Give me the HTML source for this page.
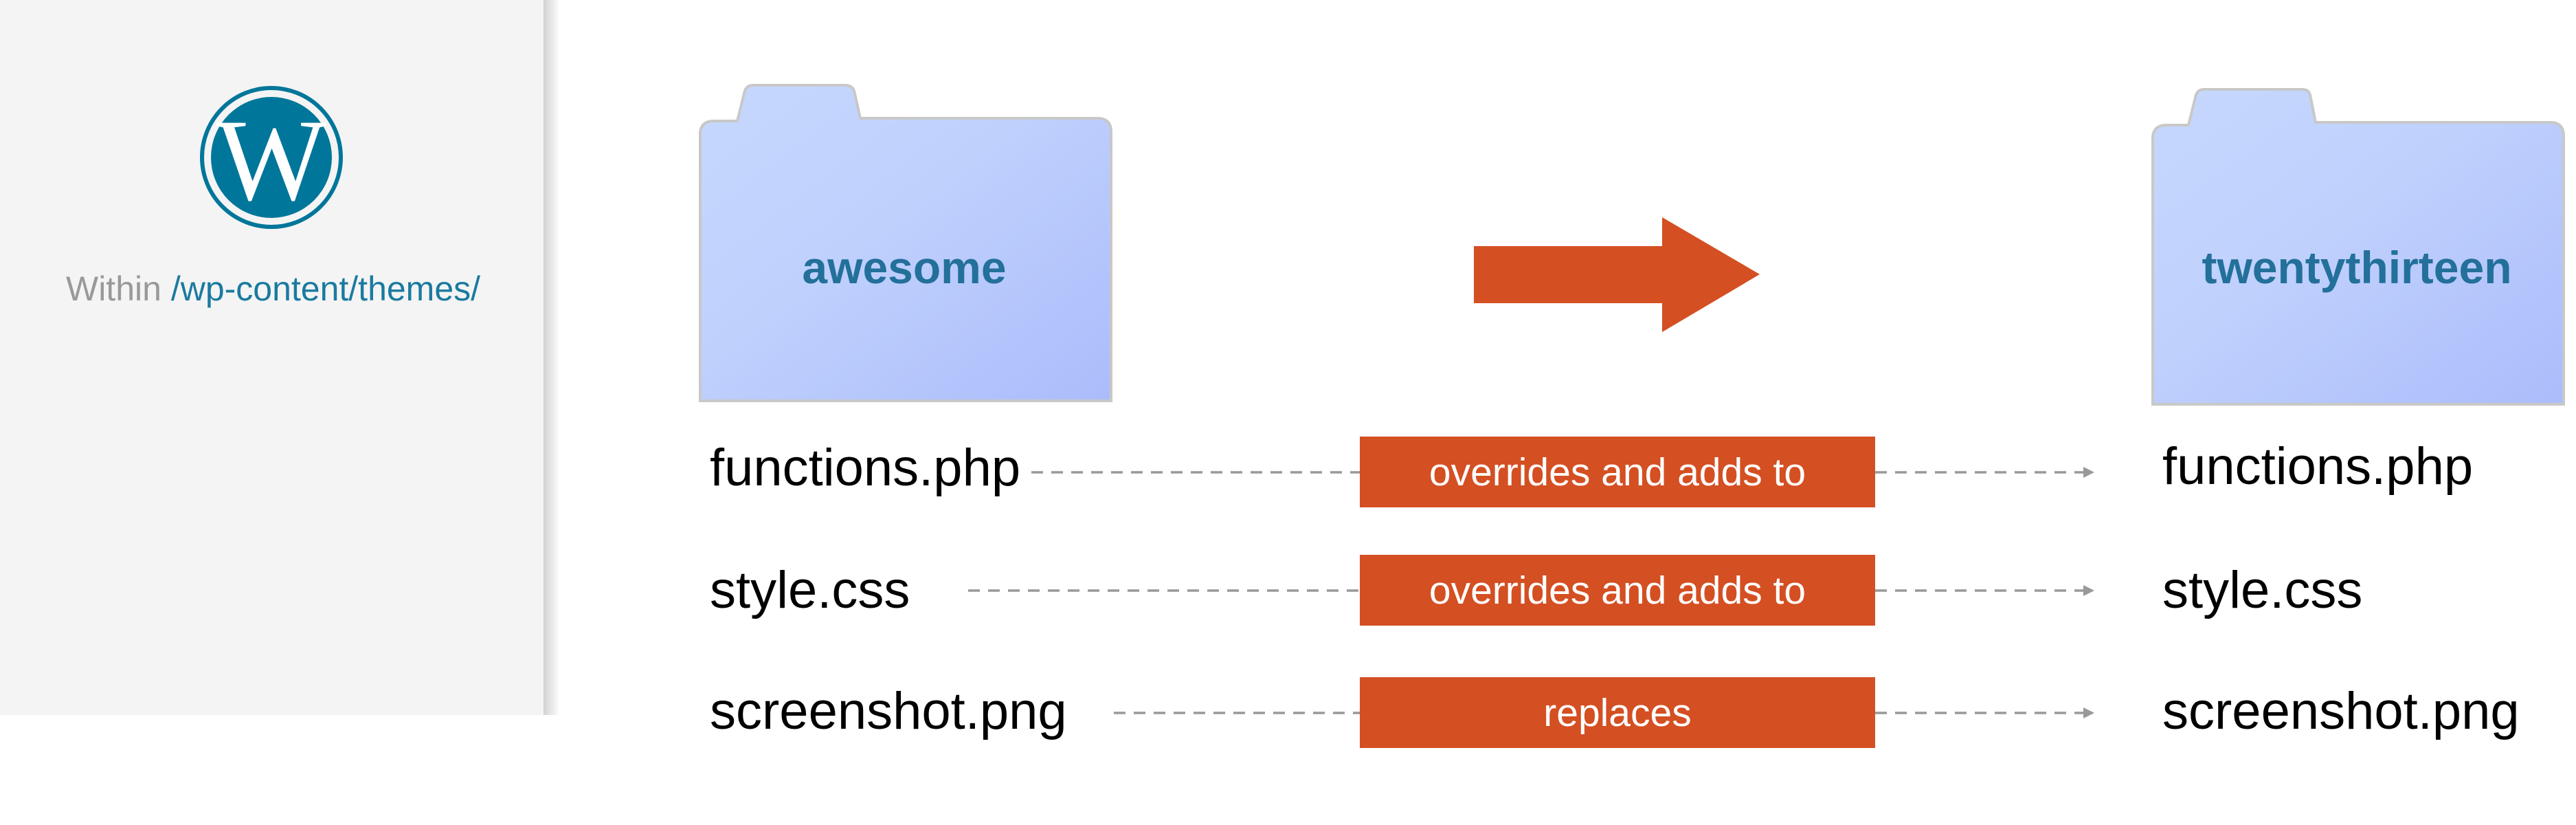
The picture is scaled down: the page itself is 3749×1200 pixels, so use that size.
<!DOCTYPE html>
<html><head><meta charset="utf-8"><style>
html,body{margin:0;padding:0;background:#fff;}
svg{display:block;}
text{font-family:"Liberation Sans",Arial,sans-serif;}
</style></head><body>
<svg width="3749" height="1200" viewBox="0 0 3749 1200" xmlns="http://www.w3.org/2000/svg">
<defs>
<linearGradient id="fg" x1="0" y1="0" x2="1" y2="1">
<stop offset="0" stop-color="#c6d8fd"/><stop offset="0.45" stop-color="#bfd0fd"/><stop offset="1" stop-color="#abbcfb"/>
</linearGradient>
<linearGradient id="sh" x1="0" y1="0" x2="1" y2="0">
<stop offset="0" stop-color="#000" stop-opacity="0.18"/><stop offset="1" stop-color="#000" stop-opacity="0"/>
</linearGradient>
</defs>
<rect x="791" y="0" width="24" height="1040" fill="url(#sh)"/>
<rect x="0" y="0" width="791" height="1040" fill="#f4f4f4"/>
<circle cx="395" cy="229" r="101" fill="none" stroke="#00769a" stroke-width="6"/>
<circle cx="395" cy="229" r="88" fill="#00769a"/>
<text x="395" y="290" text-anchor="middle" font-size="170" fill="#fff" style="font-family:'Liberation Serif',serif">W</text>
<text x="96" y="437" font-size="50" fill="#999">Within <tspan fill="#1a7aa0">/wp-content/themes/</tspan></text>
<path d="M1073 176 L1084 132 Q1087 124 1096 124 L1230 124 Q1240 124 1243 132 L1252 172 L1597 172 Q1617 172 1617 192 L1617 583 L1019 583 L1019 196 Q1019 176 1039 176 Z" fill="url(#fg)" stroke="#c8c8c8" stroke-width="4"/>
<text x="1316" y="412" text-anchor="middle" font-size="66" font-weight="bold" fill="#23709a">awesome</text>
<path d="M3185 182 L3196 138 Q3199 130 3208 130 L3350 130 Q3360 130 3362 138 L3370 178 L3711 178 Q3731 178 3731 198 L3731 588 L3133 588 L3133 202 Q3133 182 3153 182 Z" fill="url(#fg)" stroke="#c8c8c8" stroke-width="4"/>
<text x="3430" y="412" text-anchor="middle" font-size="66" font-weight="bold" fill="#23709a">twentythirteen</text>
<polygon points="2145,358 2419,358 2419,316 2561,399 2419,483 2419,441 2145,441" fill="#d44f22"/>
<text x="1033" y="706" font-size="76" fill="#000">functions.php</text>
<text x="1033" y="884" font-size="76" fill="#000">style.css</text>
<text x="1033" y="1060" font-size="76" fill="#000">screenshot.png</text>
<text x="3147" y="704" font-size="76" fill="#000">functions.php</text>
<text x="3147" y="884" font-size="76" fill="#000">style.css</text>
<text x="3147" y="1060" font-size="76" fill="#000">screenshot.png</text>
<g stroke="#999" stroke-width="3.5" stroke-dasharray="17 12" fill="none">
<line x1="1501" y1="687" x2="1979" y2="687"/>
<line x1="2729" y1="687" x2="3035" y2="687"/>
<line x1="1409" y1="859" x2="1979" y2="859"/>
<line x1="2729" y1="859" x2="3035" y2="859"/>
<line x1="1621" y1="1037" x2="1979" y2="1037"/>
<line x1="2729" y1="1037" x2="3035" y2="1037"/>
</g>
<g fill="#999">
<polygon points="3032,679 3048,687 3032,695"/>
<polygon points="3032,851 3048,859 3032,867"/>
<polygon points="3032,1029 3048,1037 3032,1045"/>
</g>
<rect x="1979" y="635" width="750" height="103" fill="#d44f22"/>
<rect x="1979" y="807" width="750" height="103" fill="#d44f22"/>
<rect x="1979" y="985" width="750" height="103" fill="#d44f22"/>
<text x="2354" y="706" text-anchor="middle" font-size="57" fill="#fff">overrides and adds to</text>
<text x="2354" y="878" text-anchor="middle" font-size="57" fill="#fff">overrides and adds to</text>
<text x="2354" y="1056" text-anchor="middle" font-size="57" fill="#fff">replaces</text>
</svg>
</body></html>
